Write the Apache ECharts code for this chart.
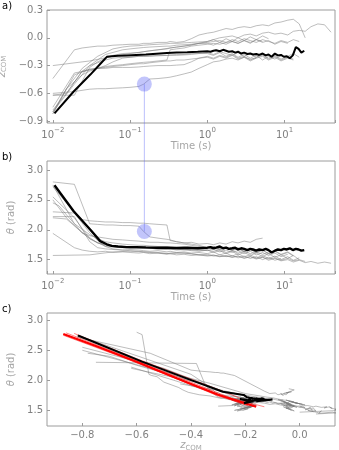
<!DOCTYPE html>
<html>
<head>
<meta charset="utf-8">
<script src="https://cdn.jsdelivr.net/npm/echarts@6.0.0/dist/echarts.min.js"></script>
<style>
  html, body { margin: 0; padding: 0; background: #fff; }
  #chart { width: 339px; height: 450px; }
</style>
</head>
<body>
<div id="chart"></div>
<script>
// sample times of the single trials (s); null = no sample at that time
const TIME = [0.010, 0.012, 0.015, 0.019, 0.024, 0.030, 0.038, 0.048, 0.060, 0.080,
  0.10, 0.13, 0.15, 0.18, 0.23, 0.30, 0.33, 0.40, 0.50, 0.62,
  0.78, 1.0, 1.2, 1.45, 1.75, 2.1, 2.5, 3.0, 3.6, 4.3,
  5.2, 6.2, 7.5, 9.0, 11, 13, 15.5, 18.5, 22, 27, 33, 40]

// z_COM of each trial
const Z_A = [-0.60, null, null, -0.58, null, -0.555, -0.55, -0.55, -0.545, -0.54, -0.535, -0.525, -0.50, -0.445, -0.44, -0.43, -0.425, -0.41, -0.39, -0.37, -0.33, -0.29, -0.26, -0.25, -0.23, -0.22, -0.24, -0.21, -0.23, -0.22]
const Z_B = [-0.82, null, -0.55, null, -0.40, -0.36, -0.33, -0.31, -0.30, -0.29, -0.28, -0.27, -0.265, -0.26, -0.25, -0.24, -0.13, -0.12, -0.11, -0.09, -0.08, -0.07, -0.06, -0.07, -0.05, -0.04, -0.06, -0.03, -0.05, -0.02, -0.04]
const Z_C = [-0.80, null, null, -0.50, null, -0.30, null, -0.18, null, -0.13, -0.12, -0.11, -0.105, -0.10, -0.095, -0.09, -0.09, -0.08, -0.075, -0.07, -0.06, -0.06, -0.08, -0.05, -0.07, -0.04, -0.06, -0.03, -0.06, -0.02, -0.05, -0.03, -0.07, -0.04, -0.06]
const Z_D = [-0.78, -0.70, -0.60, -0.48, -0.36, -0.34, -0.33, -0.33, -0.32, -0.32, -0.32, -0.315, -0.31, -0.305, -0.30, -0.30, -0.30, -0.295, -0.29, -0.26, -0.22, -0.20, -0.22, -0.19, -0.21, -0.18, -0.22, -0.20, -0.24, -0.21, -0.19, -0.23, -0.20, -0.24, -0.21, -0.23]
const Z_E = [-0.75, null, null, -0.38, null, -0.35, -0.33, -0.30, -0.26, -0.22, -0.21, -0.20, -0.20, -0.20, -0.195, -0.19, -0.19, -0.19, -0.185, -0.18, -0.17, -0.17, -0.19, -0.16, -0.20, -0.17, -0.21, -0.18, -0.22, -0.19, -0.24, -0.20, -0.23, -0.19]
const Z_F = [-0.62, null, null, -0.62, null, -0.32, -0.26, -0.22, -0.19, -0.17, -0.165, -0.16, -0.15, -0.14, -0.13, -0.12, -0.11, -0.10, -0.09, -0.08, -0.06, -0.05, -0.04, -0.03, -0.05, -0.02, -0.04, -0.01, -0.03, -0.05, -0.02, -0.04, -0.06, -0.03, -0.05, -0.02, -0.04]
const Z_G = [-0.62, null, -0.60, null, -0.36, -0.30, -0.27, -0.24, -0.22, -0.21, -0.21, -0.20, -0.20, -0.195, -0.19, -0.19, -0.185, -0.18, -0.18, -0.17, -0.17, -0.16, -0.18, -0.15, -0.17, -0.19, -0.16, -0.20, -0.17, -0.21, -0.18, -0.22, -0.19, -0.23, -0.20, -0.17, -0.21]
const Z_H = [-0.80, null, -0.55, null, -0.33, null, -0.20, null, -0.12, -0.10, -0.09, -0.085, -0.08, -0.075, -0.07, -0.065, -0.06, -0.06, -0.055, -0.05, -0.045, -0.04, -0.02, -0.05, -0.01, -0.04, 0.00, -0.03, 0.01, -0.02, 0.02, -0.01]
const Z_I = [-0.44, null, null, -0.13, -0.11, -0.10, -0.09, -0.09, -0.08, -0.075, -0.07, -0.07, -0.06, -0.06, -0.05, -0.05, -0.04, -0.05, -0.04, -0.01, 0.03, 0.05, 0.06, 0.08, 0.10, 0.09, 0.11, 0.12, 0.11, 0.13, 0.14, 0.13, 0.16, 0.17, 0.19, 0.20, 0.15, 0.00]
const Z_J = [-0.30, null, null, null, null, -0.25, null, null, -0.20, null, -0.17, null, -0.15, null, -0.13, null, -0.11, null, -0.09, null, -0.06, -0.04, -0.02, 0.00, 0.01, 0.02, 0.00, 0.03, 0.04, 0.02, 0.05, 0.06, 0.04, 0.05, 0.03, 0.07, 0.08, 0.07, 0.12, 0.15, 0.14, 0.06]
const Z_K = [-0.82, null, null, -0.40, null, -0.34, -0.33, -0.32, -0.31, -0.30, -0.29, -0.28, -0.28, -0.27, -0.26, -0.25, -0.25, -0.24, -0.24, -0.23, -0.22, -0.21, -0.23, -0.20, -0.22, -0.19, -0.23, -0.21, -0.25, -0.22, -0.20, -0.24, -0.21, -0.25, -0.22, -0.24]

// theta (rad) of each trial, same samples
const TH_A = [2.80, null, null, 2.76, null, 2.10, 2.09, 2.08, 2.08, 2.07, 2.07, 2.06, 1.97, 1.88, 1.86, 1.84, 1.83, 1.80, 1.78, 1.76, 1.74, 1.70, 1.72, 1.68, 1.70, 1.66, 1.69, 1.64, 1.67, 1.63]
const TH_B = [2.72, null, 2.45, null, 2.17, 2.15, 2.14, 2.13, 2.13, 2.12, 2.12, 2.11, 2.11, 2.10, 2.09, 2.08, 1.82, 1.80, 1.78, 1.79, 1.76, 1.77, 1.75, 1.78, 1.76, 1.80, 1.78, 1.81, 1.79, 1.84, 1.86]
const TH_C = [2.55, null, null, 2.20, null, 1.85, null, 1.72, null, 1.70, 1.69, 1.69, 1.70, 1.69, 1.68, 1.68, 1.69, 1.67, 1.68, 1.66, 1.67, 1.65, 1.68, 1.63, 1.66, 1.62, 1.65, 1.60, 1.64, 1.58, 1.62, 1.57, 1.61, 1.55, 1.59]
const TH_D = [2.45, 2.40, 2.25, 2.10, 1.95, 1.90, 1.88, 1.86, 1.84, 1.83, 1.82, 1.81, 1.80, 1.79, 1.79, 1.78, 1.78, 1.77, 1.76, 1.74, 1.72, 1.70, 1.72, 1.68, 1.71, 1.66, 1.70, 1.64, 1.68, 1.62, 1.66, 1.60, 1.64, 1.58, 1.62, 1.56]
const TH_E = [2.30, null, null, 2.28, null, 1.95, 1.82, 1.72, 1.68, 1.66, 1.65, 1.64, 1.63, 1.62, 1.61, 1.60, 1.61, 1.62, 1.61, 1.60, 1.58, 1.59, 1.56, 1.58, 1.55, 1.57, 1.53, 1.56, 1.52, 1.55, 1.50, 1.54, 1.49, 1.52]
const TH_F = [2.22, null, null, 2.22, null, 1.80, 1.70, 1.68, 1.67, 1.66, 1.67, 1.66, 1.65, 1.64, 1.65, 1.63, 1.64, 1.62, 1.63, 1.61, 1.62, 1.60, 1.63, 1.58, 1.61, 1.56, 1.60, 1.55, 1.58, 1.53, 1.57, 1.52, 1.56, 1.50, 1.55, 1.49, 1.53]
const TH_G = [2.20, null, 2.18, null, 1.95, 1.85, 1.78, 1.74, 1.72, 1.71, 1.70, 1.70, 1.69, 1.69, 1.68, 1.67, 1.68, 1.66, 1.67, 1.65, 1.64, 1.66, 1.62, 1.65, 1.60, 1.64, 1.58, 1.62, 1.57, 1.61, 1.55, 1.60, 1.54, 1.58, 1.52, 1.57, 1.50]
const TH_H = [2.50, null, 2.20, null, 1.95, null, 1.78, null, 1.72, 1.71, 1.70, 1.70, 1.69, 1.69, 1.68, 1.68, 1.67, 1.68, 1.66, 1.67, 1.65, 1.66, 1.64, 1.67, 1.62, 1.65, 1.61, 1.64, 1.60, 1.63, 1.59, 1.62]
const TH_I = [1.94, null, null, 1.70, 1.66, 1.64, 1.63, 1.64, 1.62, 1.63, 1.62, 1.61, 1.62, 1.60, 1.61, 1.59, 1.60, 1.58, 1.59, 1.57, 1.58, 1.56, 1.57, 1.55, 1.56, 1.54, 1.56, 1.53, 1.55, 1.52, 1.54, 1.51, 1.53, 1.49, 1.52, 1.48, 1.50, 1.47]
const TH_J = [1.57, null, null, null, null, 1.58, null, null, 1.63, null, 1.64, null, 1.63, null, 1.62, null, 1.60, null, 1.61, null, 1.58, 1.57, 1.58, 1.55, 1.57, 1.54, 1.56, 1.52, 1.55, 1.51, 1.54, 1.49, 1.52, 1.48, 1.50, 1.46, 1.49, 1.45, 1.47, 1.44, 1.46, 1.44]
const TH_K = [2.75, null, null, 2.10, null, 1.92, 1.85, 1.80, 1.78, 1.76, 1.75, 1.74, 1.74, 1.73, 1.72, 1.72, 1.71, 1.70, 1.71, 1.69, 1.70, 1.68, 1.70, 1.66, 1.69, 1.65, 1.68, 1.63, 1.67, 1.62, 1.66, 1.60, 1.65, 1.59, 1.63, 1.57]

// mean over trials
const MEAN_T = [0.0105, 0.0186, 0.0306, 0.041, 0.050, 0.058, 0.07, 0.09, 0.12, 0.16, 0.22, 0.3, 0.4, 0.55, 0.75,
  1.0, 1.1, 1.2, 1.3, 1.45, 1.6, 1.75, 1.9, 2.1, 2.3, 2.5, 2.75, 3.0, 3.3, 3.6, 3.9, 4.3,
  4.7, 5.2, 5.7, 6.2, 6.8, 7.5, 8.2, 9.0, 9.8, 10.7, 11.7, 12.8, 14.0, 15.2, 16.5, 18.0]
const MEAN_Z = [-0.816, -0.58, -0.397, -0.283, -0.206, -0.20, -0.195, -0.19, -0.185, -0.18, -0.172, -0.165, -0.16, -0.155, -0.15,
  -0.145, -0.15, -0.14, -0.135, -0.145, -0.13, -0.14, -0.15, -0.145, -0.16, -0.15, -0.17, -0.16, -0.175, -0.17, -0.18, -0.175,
  -0.185, -0.17, -0.19, -0.18, -0.205, -0.17, -0.19, -0.185, -0.205, -0.20, -0.22, -0.19, -0.10, -0.12, -0.16, -0.14]
const MEAN_TH = [2.745, 2.31, 2.00, 1.81, 1.757, 1.73, 1.72, 1.71, 1.71, 1.705, 1.70, 1.70, 1.695, 1.70, 1.69,
  1.70, 1.71, 1.69, 1.70, 1.72, 1.69, 1.70, 1.68, 1.69, 1.70, 1.67, 1.69, 1.68, 1.66, 1.68, 1.67, 1.65,
  1.67, 1.66, 1.68, 1.66, 1.62, 1.65, 1.67, 1.66, 1.68, 1.67, 1.69, 1.66, 1.68, 1.67, 1.65, 1.66]

// red model curves in panel c (z_COM, theta)
const FIT_Z = [-0.87, -0.75, -0.60, -0.45, -0.30, -0.16]
const FIT_TH = [2.77, 2.57, 2.31, 2.03, 1.76, 1.56]
const FIT_Z_1 = [-0.86, -0.60, -0.40, -0.25, -0.13]
const FIT_TH_1 = [2.79, 2.33, 1.97, 1.70, 1.56]
const FIT_Z_2 = [-0.85, -0.60, -0.40, -0.22, -0.19]
const FIT_TH_2 = [2.74, 2.30, 1.93, 1.62, 1.58]
const FIT_Z_3 = [-0.83, -0.60, -0.40, -0.25, -0.20]
const FIT_TH_3 = [2.78, 2.36, 2.02, 1.76, 1.66]
const FIT_Z_4 = [-0.87, -0.65, -0.45, -0.30, -0.18]
const FIT_TH_4 = [2.75, 2.38, 2.02, 1.74, 1.58]

// highlighted instant
const MARK_T = 0.153
const MARK_Z = -0.50
const MARK_TH = 1.97

const Z_TICKS = [-0.9, -0.6, -0.3, 0, 0.3]
const TH_TICKS = [1.5, 2.0, 2.5, 3.0]
const ZC_TICKS = [-0.8, -0.6, -0.4, -0.2, 0]

const trialZ = [Z_A, Z_B, Z_C, Z_D, Z_E, Z_F, Z_G, Z_H, Z_I, Z_J, Z_K]
const trialTh = [TH_A, TH_B, TH_C, TH_D, TH_E, TH_F, TH_G, TH_H, TH_I, TH_J, TH_K]

const FONT = 'DejaVu Sans'
const FRAME = '#9c9c9c'
const LABEL = '#7f7f7f'
const NAME = '#a6a6a6'
const GRAY = 'rgba(120,120,120,0.55)'
const MARK = 'rgba(85,95,245,0.45)'

const minus = (s) => s.replace('-', '\u2212')
const decimal = (v) => minus(Number(v).toFixed(1))
const power = (v) => {
  const e = Math.log10(v)
  if (Math.abs(e - Math.round(e)) > 1e-6) return ''
  return '{b|10}{s|' + minus(String(Math.round(e))) + '}'
}

const tick = { inside: true, length: 3, lineStyle: { color: FRAME } }
const labelStyle = { color: LABEL, fontFamily: FONT, fontSize: 10, margin: 4 }
const nameStyle = { color: NAME, fontFamily: FONT, fontSize: 10 }
const subRich = {
  i: { color: NAME, fontFamily: FONT, fontSize: 10, fontStyle: 'italic' },
  s: { color: NAME, fontFamily: FONT, fontSize: 7, verticalAlign: 'bottom', padding: [4, 0, 0, 0] }
}

const timeAxis = (idx) => ({
  type: 'log',
  logBase: 10,
  gridIndex: idx,
  min: 0.0084,
  max: 45,
  axisLine: { show: false, onZero: false },
  splitLine: { show: false },
  axisTick: tick,
  axisLabel: {
    ...labelStyle,
    formatter: power,
    rich: {
      b: { color: LABEL, fontFamily: FONT, fontSize: 10, lineHeight: 13, verticalAlign: 'bottom' },
      s: { color: LABEL, fontFamily: FONT, fontSize: 7, lineHeight: 13, verticalAlign: 'top' }
    }
  },
  name: 'Time (s)',
  nameLocation: 'middle',
  nameGap: 18,
  nameTextStyle: nameStyle
})

const valueAxis = (idx, min, max, ticks, name, gap) => ({
  type: 'value',
  gridIndex: idx,
  min,
  max,
  axisLine: { show: false, onZero: false },
  splitLine: { show: false },
  axisTick: { ...tick, customValues: ticks },
  axisLabel: { ...labelStyle, customValues: ticks, formatter: decimal },
  name,
  nameLocation: 'middle',
  nameGap: gap,
  nameTextStyle: { ...nameStyle, rich: subRich }
})

const line = (idx, data, color, width, z) => ({
  type: 'line',
  xAxisIndex: idx,
  yAxisIndex: idx,
  data,
  symbol: 'none',
  showSymbol: false,
  silent: true,
  z,
  lineStyle: { color, width }
})

const series = []
trialZ.forEach((zs, k) => {
  const ths = trialTh[k]
  const ptsA = []
  const ptsB = []
  const ptsC = []
  zs.forEach((z, i) => {
    if (z === null) return
    ptsA.push([TIME[i], z])
    ptsB.push([TIME[i], ths[i]])
    ptsC.push([z, ths[i]])
  })
  series.push(line(0, ptsA, GRAY, 0.9, 2), line(1, ptsB, GRAY, 0.9, 2), line(2, ptsC, GRAY, 0.9, 2))
})

const fits = [[FIT_Z_1, FIT_TH_1], [FIT_Z_2, FIT_TH_2], [FIT_Z_3, FIT_TH_3], [FIT_Z_4, FIT_TH_4]]
fits.forEach(([zs, ths]) => {
  series.push(line(2, zs.map((z, i) => [z, ths[i]]), 'rgba(255,0,0,0.6)', 0.8, 3))
})
series.push(line(2, FIT_Z.map((z, i) => [z, FIT_TH[i]]), '#ff0000', 2.2, 3))

series.push(line(0, MEAN_T.map((t, i) => [t, MEAN_Z[i]]), '#000', 2, 4))
series.push(line(1, MEAN_T.map((t, i) => [t, MEAN_TH[i]]), '#000', 2.4, 4))
series.push(line(2, MEAN_Z.map((z, i) => [z, MEAN_TH[i]]), '#000', 2, 4))

series.push({
  type: 'scatter', xAxisIndex: 0, yAxisIndex: 0, silent: true, z: 5,
  symbolSize: 15, itemStyle: { color: MARK }, data: [[MARK_T, MARK_Z]]
})
series.push({
  type: 'scatter', xAxisIndex: 1, yAxisIndex: 1, silent: true, z: 5,
  symbolSize: 15, itemStyle: { color: MARK }, data: [[MARK_T, MARK_TH]]
})

// fixed boxes: ECharts 6 would otherwise shrink them to keep labels inside
const gridBox = {
  left: 47, width: 288, height: 113,
  show: true, borderColor: FRAME, borderWidth: 1,
  containLabel: false, outerBoundsMode: 'none'
}

const chart = echarts.init(document.getElementById('chart'), null, { renderer: 'canvas' })
chart.setOption({
  animation: false,
  backgroundColor: '#fff',
  textStyle: { fontFamily: FONT },
  grid: [
    { ...gridBox, top: 10 },
    { ...gridBox, top: 161 },
    { ...gridBox, top: 313 }
  ],
  xAxis: [
    timeAxis(0),
    timeAxis(1),
    valueAxis(2, -0.93, 0.13, ZC_TICKS, '{i|z}{s|COM}', 14)
  ],
  yAxis: [
    valueAxis(0, -0.92, 0.3, Z_TICKS, '{i|z}{s|COM}', 24),
    valueAxis(1, 1.26, 3.15, TH_TICKS, '{i|\u03b8} (rad)', 22),
    valueAxis(2, 1.24, 3.12, TH_TICKS, '{i|\u03b8} (rad)', 22)
  ],
  series
})

// connector between the two highlighted points
const p1 = chart.convertToPixel({ xAxisIndex: 0, yAxisIndex: 0 }, [MARK_T, MARK_Z])
const p2 = chart.convertToPixel({ xAxisIndex: 1, yAxisIndex: 1 }, [MARK_T, MARK_TH])
const panelLabel = (text, top) => ({
  type: 'text', left: 2, top,
  style: { text, fill: '#000', font: '10px "DejaVu Sans"' }
})
chart.setOption({
  graphic: [
    {
      type: 'line', z: 1, silent: true,
      shape: { x1: p1[0], y1: p1[1], x2: p2[0], y2: p2[1] },
      style: { stroke: 'rgba(85,95,245,0.4)', lineWidth: 1 }
    },
    panelLabel('a)', 1),
    panelLabel('b)', 152),
    panelLabel('c)', 304)
  ]
})
</script>
</body>
</html>
